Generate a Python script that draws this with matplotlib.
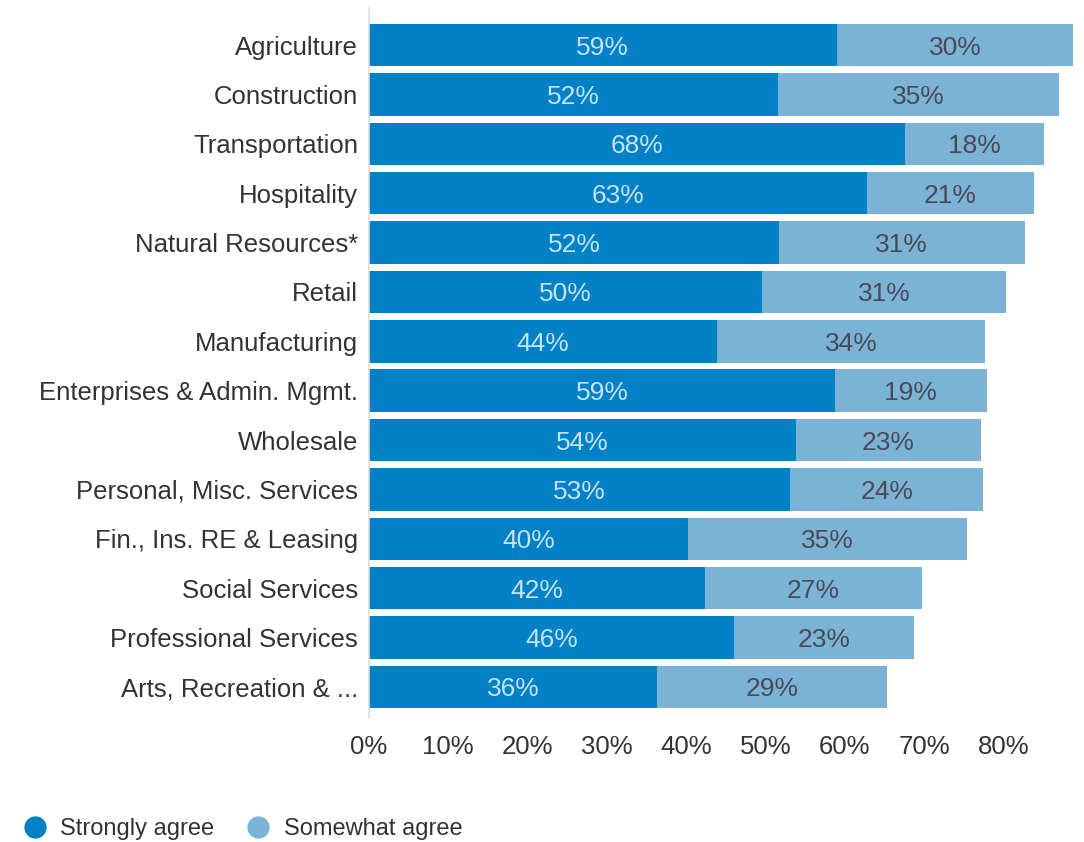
import matplotlib
matplotlib.use("Agg")
import matplotlib.pyplot as plt
from matplotlib.lines import Line2D

plt.rcParams['font.family'] = ['Liberation Sans', 'DejaVu Sans']

# datos
industrias = ['Agriculture', 'Construction', 'Transportation', 'Hospitality',
              'Natural Resources*', 'Retail', 'Manufacturing',
              'Enterprises & Admin. Mgmt.', 'Wholesale', 'Personal, Misc. Services',
              'Fin., Ins. RE & Leasing', 'Social Services', 'Professional Services',
              'Arts, Recreation & ...']
strongly = [59.0, 51.6, 67.6, 62.8, 51.7, 49.6, 43.9, 58.8, 53.8, 53.1, 40.2, 42.4, 46.0, 36.3]
somewhat = [29.8, 35.4, 17.6, 21.1, 31.0, 30.7, 33.8, 19.1, 23.4, 24.4, 35.2, 27.3, 22.7, 29.1]
series = ['Strongly agree', 'Somewhat agree']
ticks = [0, 10, 20, 30, 40, 50, 60, 70, 80]

c_strong = '#0081C6'
c_some = '#7BB3D6'

fig = plt.figure(figsize=(10.84, 8.42), dpi=100)
W, H = 1084, 842
ax = fig.add_axes([369 / W, 1 - 718 / H, (1073 - 369) / W, (718 - 8) / H])

y = list(range(len(industrias)))
ax.barh(y, strongly, height=0.86, color=c_strong)
ax.barh(y, somewhat, left=strongly, height=0.86, color=c_some)

for i in y:
    s = strongly[i]
    w = somewhat[i]
    ax.text(s / 2, i, f'{round(s)}%', ha='center', va='center_baseline',
            fontsize=19, color='#C5E3F6')
    ax.text(s + w / 2, i, f'{round(w)}%', ha='center', va='center_baseline',
            fontsize=19, color='#4A4A55')

ax.set_xlim(0, 88.8)
ax.set_ylim(13.63, -0.75)
ax.set_yticks(y)
ax.set_yticklabels(industrias, fontsize=18.5, color='#333333', va='center_baseline')
ax.set_xticks(ticks)
ax.set_xticklabels([f'{t}%' for t in ticks], fontsize=18.5, color='#333333')
ax.tick_params(axis='both', length=0)
ax.tick_params(axis='y', pad=8)
ax.tick_params(axis='x', pad=12)
for sp in ['top', 'right', 'bottom']:
    ax.spines[sp].set_visible(False)
ax.spines['left'].set_color('#DDDDDD')
ax.spines['left'].set_linewidth(1.2)

# leyenda a mano
ley_y = 1 - 827 / H
for xc, xt, col, nombre in [(35, 60, c_strong, series[0]), (258, 284, c_some, series[1])]:
    fig.add_artist(Line2D([xc / W], [ley_y], marker='o', markersize=15, color=col,
                          linestyle='none', transform=fig.transFigure))
    fig.text(xt / W, ley_y, nombre, fontsize=17, color='#333333',
             va='center_baseline', ha='left')

fig.savefig('out.png', dpi=100)
